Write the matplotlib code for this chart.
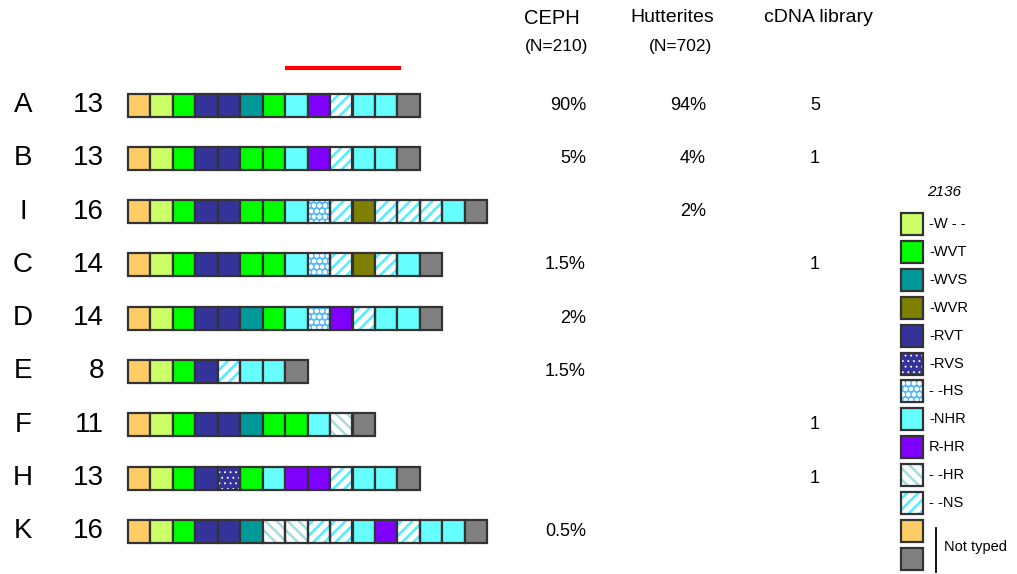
import matplotlib
matplotlib.use("Agg")
import matplotlib.pyplot as plt

plt.rcParams['font.family'] = ['Liberation Sans', 'DejaVu Sans']
plt.rcParams['hatch.linewidth'] = 2.0

# allele styles: (face, hatch, hatch colour, hatch width)
styles = {
    'NT1': ('#FFCC66', None, None, 0),
    'W': ('#CCFF66', None, None, 0),
    'WVT': ('#00FF00', None, None, 0),
    'WVS': ('#009999', None, None, 0),
    'WVR': ('#808000', None, None, 0),
    'RVT': ('#333399', None, None, 0),
    'RVS': ('#333399', '...', 'white', 0.6),
    'HS': ('#55BBFF', 'ooo', 'white', 1.3),
    'NHR': ('#66FFFF', None, None, 0),
    'RHR': ('#8000FF', None, None, 0),
    'HR': ('white', '\\\\\\', '#A8DCDC', 1.8),
    'NS': ('white', '///', '#55EEFF', 1.9),
    'NT2': ('#808080', None, None, 0),
}

legend_keys = ['W', 'WVT', 'WVS', 'WVR', 'RVT', 'RVS', 'HS', 'NHR', 'RHR', 'HR', 'NS', 'NT1', 'NT2']
legend_labels = ['-W - -', '-WVT', '-WVS', '-WVR', '-RVT', '-RVS', '- -HS', '-NHR', 'R-HR', '- -HR', '- -NS', '', '']

names = ['A', 'B', 'I', 'C', 'D', 'E', 'F', 'H', 'K']
counts = [13, 13, 16, 14, 14, 8, 11, 13, 16]
haplotypes = [
    ['NT1', 'W', 'WVT', 'RVT', 'RVT', 'WVS', 'WVT', 'NHR', 'RHR', 'NS', 'NHR', 'NHR', 'NT2'],
    ['NT1', 'W', 'WVT', 'RVT', 'RVT', 'WVT', 'WVT', 'NHR', 'RHR', 'NS', 'NHR', 'NHR', 'NT2'],
    ['NT1', 'W', 'WVT', 'RVT', 'RVT', 'WVT', 'WVT', 'NHR', 'HS', 'NS', 'WVR', 'NS', 'NS', 'NS', 'NHR', 'NT2'],
    ['NT1', 'W', 'WVT', 'RVT', 'RVT', 'WVT', 'WVT', 'NHR', 'HS', 'NS', 'WVR', 'NS', 'NHR', 'NT2'],
    ['NT1', 'W', 'WVT', 'RVT', 'RVT', 'WVS', 'WVT', 'NHR', 'HS', 'RHR', 'NS', 'NHR', 'NHR', 'NT2'],
    ['NT1', 'W', 'WVT', 'RVT', 'NS', 'NHR', 'NHR', 'NT2'],
    ['NT1', 'W', 'WVT', 'RVT', 'RVT', 'WVS', 'WVT', 'WVT', 'NHR', 'HR', 'NT2'],
    ['NT1', 'W', 'WVT', 'RVT', 'RVS', 'WVT', 'NHR', 'RHR', 'RHR', 'NS', 'NHR', 'NHR', 'NT2'],
    ['NT1', 'W', 'WVT', 'RVT', 'RVT', 'WVS', 'HR', 'HR', 'NS', 'NS', 'NHR', 'RHR', 'NS', 'NHR', 'NHR', 'NT2'],
]
ceph = ['90%', '5%', '', '1.5%', '2%', '1.5%', '', '', '0.5%']
hutterites = ['94%', '4%', '2%', '', '', '', '', '', '']
cdna = ['5', '1', '', '1', '', '', '1', '1', '']

fig = plt.figure(figsize=(10.17, 5.74), dpi=100)
ax = fig.add_axes([0, 0, 1, 1])
ax.set_xlim(0, 1017)
ax.set_ylim(574, 0)
ax.axis('off')


def draw_box(x, y, w, h, key):
    face, hatch, hcol, hlw = styles[key]
    if hatch:
        bars = ax.bar(x, h, w, bottom=y, align='edge', facecolor=face, hatch=hatch,
                      edgecolor=hcol, linewidth=0, zorder=2)
        for p in bars:
            if hasattr(p, 'set_hatch_linewidth'):
                p.set_hatch_linewidth(hlw)
        ax.bar(x, h, w, bottom=y, align='edge', fill=False,
               edgecolor='#333333', linewidth=1.6, zorder=3)
    else:
        ax.bar(x, h, w, bottom=y, align='edge', color=face,
               edgecolor='#333333', linewidth=1.6, zorder=2)


x0, bw, bh = 128, 22.45, 23
row_y0, row_dy = 105, 53.3
for r, (name, n, hap) in enumerate(zip(names, counts, haplotypes)):
    yc = row_y0 + r * row_dy
    ax.text(23, yc, name, fontsize=20, ha='center', va='center')
    ax.text(104, yc, str(n), fontsize=20, ha='right', va='center')
    for i, key in enumerate(hap):
        draw_box(x0 + i * bw, yc - bh / 2, bw, bh, key)
    ax.text(586, yc, ceph[r], fontsize=13, ha='right', va='center')
    ax.text(706, yc, hutterites[r], fontsize=13, ha='right', va='center')
    ax.text(815, yc, cdna[r], fontsize=13, ha='center', va='center')

# red bar
ax.plot([285, 401], [68, 68], color='#FF0000', linewidth=3, solid_capstyle='butt')

# column headers
ax.text(552, 18, 'CEPH', fontsize=14.5, ha='center', va='center')
ax.text(557, 46, '(N=210)', fontsize=12.5, ha='center', va='center')
ax.text(672, 18, 'Hutterites', fontsize=14, ha='center', va='center')
ax.text(680, 46, '(N=702)', fontsize=12.5, ha='center', va='center')
ax.text(818, 18, 'cDNA library', fontsize=14, ha='center', va='center')

# legend
ax.text(944, 192, '2136', fontsize=11, ha='center', va='center', style='italic')
lx, ly0, ldy, ls = 901, 213, 27.9, 22
for j, (key, lab) in enumerate(zip(legend_keys, legend_labels)):
    y = ly0 + j * ldy
    draw_box(lx, y, ls, ls, key)
    if lab:
        ax.text(929, y + ls / 2, lab, fontsize=10.5, ha='left', va='center')
ax.plot([936, 936], [528, 572], color='black', linewidth=1.3)
ax.text(944, 547, 'Not typed', fontsize=10.5, ha='left', va='center')

fig.savefig('out.png', dpi=100)
